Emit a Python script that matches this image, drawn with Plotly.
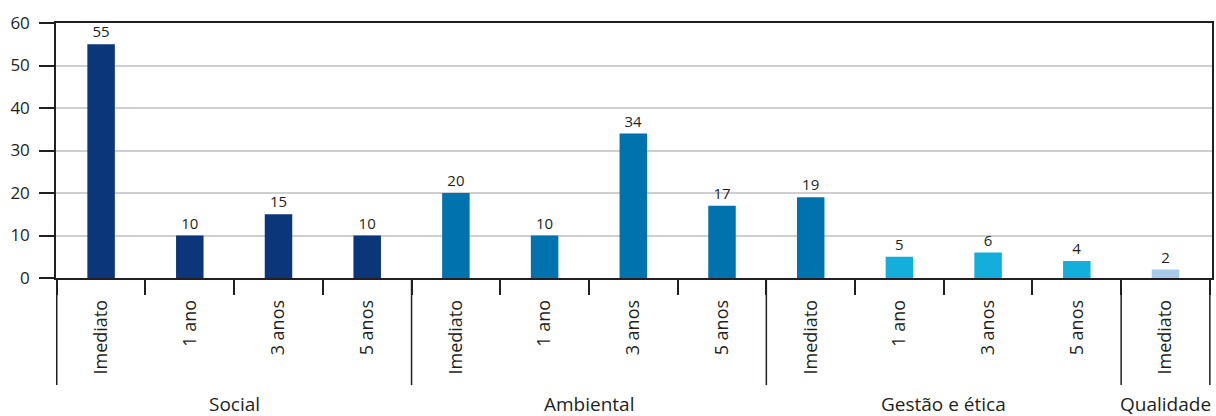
import plotly.graph_objects as go

group_names = ["Social", "Ambiental", "Gestão e ética", "Qualidade"]
group_sizes = [4, 4, 4, 1]
periods = ["Imediato", "1 ano", "3 anos", "5 anos"] * 3 + ["Imediato"]
values = [55, 10, 15, 10, 20, 10, 34, 17, 19, 5, 6, 4, 2]
bar_colors = ["#0B367A"] * 4 + ["#0072AE"] * 5 + ["#14AEDD"] * 3 + ["#A9CBEA"]

TEXT = "#231F20"
AXIS = "#231F20"

# group keys are blank (unique) so plotly only uses them for grouping;
# group names and dividers are drawn below as annotations / shapes
group_keys = []
for i, n in enumerate(group_sizes):
    group_keys += [" " * (i + 1)] * n

fig = go.Figure()
fig.add_trace(go.Bar(
    x=[group_keys, periods],
    y=values,
    marker_color=bar_colors,
    marker_line_width=0,
    width=0.31,
    text=[str(v) for v in values],
    textposition="outside",
    textfont=dict(size=15, color=TEXT),
    cliponaxis=False,
))

start = 0
bounds = [0]
for name, n in zip(group_names, group_sizes):
    fig.add_annotation(
        x=start + (n - 1) / 2, xref="x",
        y=-0.494, yref="paper", yanchor="middle",
        text=name, showarrow=False,
        font=dict(size=19, color=TEXT),
        borderpad=0,
    )
    start += n
    bounds.append(start)

for b in bounds:
    fig.add_shape(
        type="line", xref="x", yref="paper",
        x0=b - 0.5, x1=b - 0.5, y0=0, y1=-0.42,
        line=dict(color=AXIS, width=1.5),
    )

fig.update_layout(
    width=1216, height=416,
    margin=dict(l=56, r=4, t=23, b=138),
    paper_bgcolor="white",
    plot_bgcolor="white",
    font=dict(family="Open Sans, sans-serif", color=TEXT, size=17),
    showlegend=False,
)
fig.update_xaxes(
    type="multicategory",
    automargin=False,
    tickangle=-90,
    tickfont=dict(size=18),
    ticklabelstandoff=13,
    showline=True, linecolor=AXIS, linewidth=1.5, mirror=True,
    ticks="outside", ticklen=15, tickcolor=AXIS, tickwidth=1.5,
    showdividers=False,
    showgrid=False,
)
fig.update_yaxes(
    automargin=False,
    range=[0, 60], dtick=10,
    showline=True, linecolor=AXIS, linewidth=1.5, mirror=True,
    ticks="outside", ticklen=15, tickcolor=AXIS, tickwidth=1.5,
    ticklabelstandoff=6,
    gridcolor="#CFCFCF", gridwidth=1.5,
    tickfont=dict(size=17),
    zeroline=False,
)

# drop the browser's default body margin so the 1216x416 figure fits the window
fig.write_html(
    "out.html",
    config={"displayModeBar": False},
    post_script="document.body.style.margin = '0';",
)
